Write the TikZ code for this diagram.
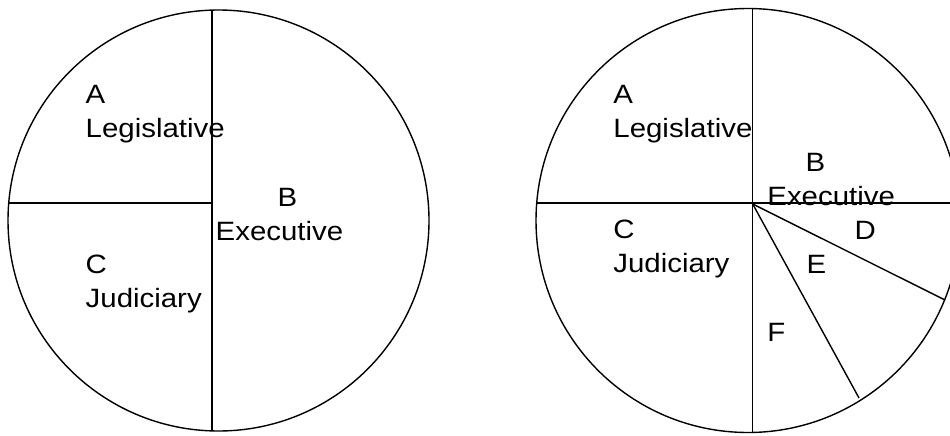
\documentclass[tikz,border=0pt]{standalone}
\usepackage{fontspec}
\setmainfont{Liberation Sans}[FakeStretch=1.11]
\usetikzlibrary{positioning}
\begin{document}
\begin{tikzpicture}[x=1pt,y=-1pt,line width=1.4pt,
  every node/.style={font=\fontsize{26.5}{34}\selectfont,align=left,inner sep=0pt,anchor=base west}]
\useasboundingbox (0,0) rectangle (950,436);
\clip (0,0) rectangle (950,436);
% left chart
\coordinate (cL) at (218.5,220.5);
\draw (cL) circle (210.5);
\draw (212,10) -- (212,431);
\draw (8.7,203) -- (212,203);
\node (legL) at (85,137) {A\\Legislative};
\node (exeL) at (215,240) {\hspace*{62pt}B\\Executive};
\node (judL) at (85,307) {C\\Judiciary};
% right chart
\coordinate (cR) at (748,220.5);
\coordinate (hub) at (752.7,204);
\draw (cR) circle (212);
\draw (752.7,8.5) -- (752.7,432.5);
\draw (536.7,203) -- (960,203);
\draw (hub) -- (945,300);
\draw (hub) -- (859,398);
\node (legR) at (612.7,137) {A\\Legislative};
\node (exeR) at (766.7,205) {\hspace*{38.3pt}B\\Executive};
\node (judR) at (612.7,272) {C\\Judiciary};
\node (partD) at (854,239) {D};
\node (partE) at (806,273) {E};
\node (partF) at (766.7,341) {F};
\end{tikzpicture}
\end{document}
